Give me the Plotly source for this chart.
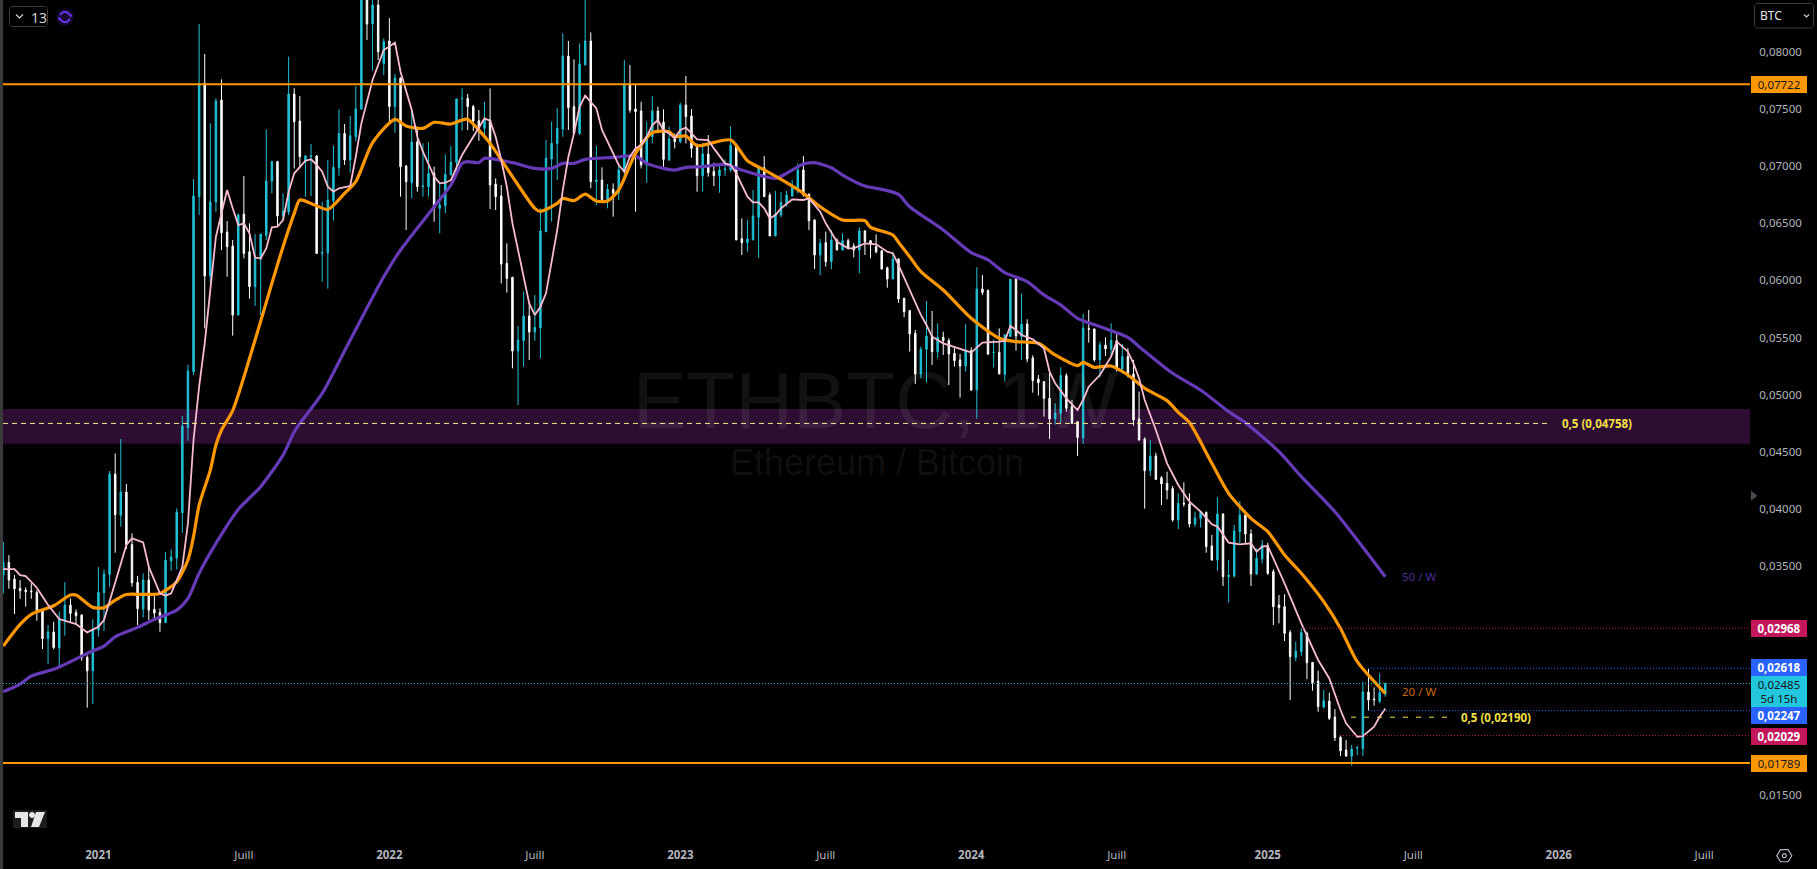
import math
import pandas as pd
import plotly.graph_objects as go

SCALE = 1e-5
LAST_BAR = "2025-06-02"

opens = [
 3432,3543,3397,3316,3301,3293,3281,3118,2876,2934,
 2794,3027,3170,3106,3083,2713,2596,2952,3278,3438,
 4315,3957,4158,3700,3368,3135,3389,3132,3106,3016,
 3555,3581,3977,4720,5210,6740,7730,6046,6693,7585,
 6431,6308,5705,6588,6259,5953,6192,6402,6877,7046,
 6571,6606,7637,7401,7046,7089,7095,6244,6250,6705,
 6993,7293,7060,7264,7506,8600,8249,8415,7905,8101,
 7527,7777,7008,6862,7218,6827,6827,6944,6638,6661,
 6929,7040,7596,7599,7527,7404,7337,7410,6850,6746,
 6157,6035,5391,5481,5697,5557,5592,6434,7069,7203,
 7331,7969,7527,7293,7891,8101,6871,6885,6693,6804,
 6775,6958,7719,7506,7489,7017,7264,7489,7392,7060,
 7244,7221,7541,7445,7171,6923,7113,6961,6923,6973,
 6973,7191,6373,6338,6361,6559,6993,6754,6396,6579,
 6681,6746,6804,6973,6763,6536,6230,6338,6172,6361,
 6273,6355,6308,6273,6440,6355,6303,6268,6119,6020,
 6195,5851,5744,5546,5190,5406,5522,5385,5511,5482,
 5371,5312,5260,5394,5050,5933,5919,5377,5380,5187,
 5517,6018,5517,5627,5330,5146,5123,4977,4797,4846,
 5176,4905,4773,4631,5586,5584,5313,5444,5409,5482,
 5234,5342,5190,4797,4622,4345,4473,4284,4234,4188,
 3914,4059,4054,3879,3928,3981,3687,3564,3966,3418,
 3424,3812,3958,3791,3442,3573,3689,3462,3171,3156,
 2931,2713,2762,2923,2669,2506,2279,2331,2191,2014,
 1903,1850,1920,1915,2410,2349,2328,2392]
highs = [
 3724,3607,3432,3389,3325,3360,3301,3135,2995,3024,
 3112,3371,3228,3132,3091,2730,3045,3502,3482,4342,
 4496,4621,4228,3797,3424,3447,3520,3272,3141,3633,
 3657,4015,4822,5268,6894,8249,7987,7381,7599,7765,
 6527,6361,6594,6920,6507,6413,6413,7328,7054,7054,
 6769,7964,7687,7620,7104,7200,7104,6696,7060,7186,
 7503,7375,7445,7707,8700,8700,8700,8700,8124,8299,
 7812,7783,7017,7512,7352,7206,7215,7002,6871,7110,
 7183,7596,7687,7637,7541,7497,7570,7687,6900,6842,
 6332,6040,5609,5909,5822,5880,6638,7235,7395,7512,
 8168,8101,7940,8080,8520,8176,7183,6996,6850,6856,
 7017,7934,7891,7716,7570,7395,7620,7527,7503,7352,
 7293,7561,7795,7506,7206,7206,7279,7037,7017,7066,
 7357,7206,6550,6536,6798,7017,7095,6775,6789,6778,
 6792,6885,7031,7095,6763,6542,6370,6434,6448,6375,
 6419,6373,6332,6472,6448,6361,6410,6268,6128,6259,
 6201,5857,5750,5575,5429,5828,5741,5633,5560,5502,
 5429,5365,5624,5423,6123,6056,5930,5493,5589,5540,
 6021,6047,5895,5668,5353,5181,5129,5202,4934,5248,
 5196,4963,4779,5715,5750,5584,5473,5511,5633,5546,
 5452,5415,5313,5036,4636,4613,4502,4298,4336,4211,
 4147,4243,4147,3987,3995,3987,3783,4112,3972,3564,
 3870,4080,3995,3832,3666,3739,3716,3483,3258,3264,
 2952,2850,2966,2937,2669,2596,2427,2404,2261,2034,
 1990,1947,1938,2500,2611,2451,2573,2491]
lows = [
 3272,3313,3091,3225,3156,3225,3033,2786,2654,2783,
 2631,2902,3016,2995,2684,2273,2305,2893,2943,3330,
 3628,3855,3660,3330,2995,3062,3039,3045,2937,3016,
 3470,3482,3802,4607,5181,6580,5589,5982,6609,6273,
 6040,5525,5705,6201,5848,5784,5705,6361,6769,6477,
 6536,6579,6987,6987,6740,6746,6244,5997,5935,6530,
 6923,7017,6950,7223,7497,8109,7841,7934,7803,7381,
 7299,6740,6448,6725,6783,6740,6740,6521,6419,6594,
 6929,6929,7317,7323,7314,7229,7241,6632,6623,5982,
 5901,5239,4918,5254,5312,5481,5326,6434,6521,6885,
 7264,7323,7293,7279,7891,6813,6667,6696,6638,6565,
 6711,6915,7474,6609,6987,6862,7206,7308,7002,7054,
 7162,7206,7206,7081,6783,6783,6915,6833,6775,6923,
 6958,6361,6230,6259,6361,6206,6740,6396,6396,6559,
 6652,6740,6769,6740,6448,6107,6055,6128,6107,6273,
 6273,6279,6209,6070,6230,6201,6244,6107,5944,6020,
 5813,5685,5385,5103,5152,5114,5269,5330,5356,5094,
 5254,4983,5211,5044,4800,5881,5356,5248,5190,5123,
 5517,5394,5313,5292,5027,5001,4817,4622,4747,4765,
 4861,4753,4473,4578,5464,5298,5161,5347,5347,5211,
 5196,5161,4738,4607,4013,4298,4263,4045,4094,3899,
 3835,4030,3850,3855,3847,3628,3558,3471,3337,3191,
 3410,3710,3710,3337,3433,3535,3433,2996,3010,2856,
 2340,2681,2725,2523,2422,2238,2267,2165,1982,1850,
 1845,1766,1859,1850,2244,2290,2311,2369]
closes = [
 3543,3389,3313,3295,3287,3287,3112,2876,2934,2800,
 3048,3170,3097,3077,2710,2596,2960,3281,3441,4315,
 3960,4158,3700,3365,3138,3389,3126,3100,3016,3561,
 3590,3983,4735,5216,6746,7730,6046,6693,7576,6425,
 6303,5705,6579,6244,5953,6201,6413,6877,7046,6571,
 6614,7637,7395,7089,7095,7095,6244,6253,6711,6996,
 7293,7060,7273,7506,8600,8249,8415,8007,8095,7527,
 7777,7002,6871,7218,6827,6833,6944,6638,6667,6935,
 7040,7594,7599,7527,7401,7337,7410,6842,6740,6151,
 6026,5391,5487,5697,5557,5597,6440,7075,7206,7337,
 7969,7518,7293,7900,8101,6871,6885,6696,6804,6769,
 6973,7725,7497,7483,7017,7270,7489,7395,7066,7244,
 7221,7541,7439,7162,6923,7113,6950,6923,6973,6982,
 7191,6361,6338,6370,6571,7002,6740,6396,6588,6690,
 6754,6821,6973,6754,6530,6230,6332,6172,6361,6273,
 6355,6288,6273,6440,6346,6332,6259,6107,6020,6195,
 5845,5734,5540,5190,5406,5522,5385,5511,5482,5365,
 5307,5260,5400,5050,5933,5901,5365,5380,5190,5531,
 6018,5522,5627,5321,5132,5114,4977,4797,4849,5176,
 4890,4759,4634,5592,5581,5313,5444,5409,5482,5240,
 5342,5196,4788,4613,4345,4473,4269,4229,4176,3914,
 4059,4054,3879,3931,3981,3681,3564,3966,3418,3430,
 3818,3958,3791,3442,3579,3695,3448,3156,3147,2923,
 2719,2768,2929,2666,2491,2282,2334,2180,2011,1897,
 1850,1912,1923,2410,2340,2343,2404,2485]

purple_bar = [0,3,5,9,12,15,18,20,24,27,31,33,35,38,42,46,50,52,53,57,62,68,71,77,80,82,83,85,86,91,95,98,100,102,104,109,113,115,118,120,122,125,129,132,135,138,140,143,145,148,150,154,157,160,162,168,173,176,179,183,186,189,192,196,201,203,209,214,219,222,228,232,238,242,247]
purple_val = [2413,2480,2550,2608,2675,2748,2812,2893,2975,3045,3126,3228,3447,3709,4006,4205,4481,4685,4758,5020,5487,6040,6274,6652,6842,7031,7046,7037,7075,7037,6987,6987,7031,7031,7066,7083,7095,7031,6987,6973,6996,7002,7022,6973,6929,6900,6944,7025,7037,6993,6929,6833,6804,6760,6652,6449,6251,6187,6076,5997,5881,5793,5677,5604,5511,5429,5196,5050,4861,4765,4511,4293,3986,3739,3418]

orange_bar = [0,3,5,9,12,13,16,18,20,22,25,28,31,33,34,35,37,38,39,41,45,48,50,52,53,55,58,61,63,66,70,72,75,77,80,82,83,85,87,91,95,96,99,100,102,104,106,108,110,113,116,119,120,122,124,130,133,136,140,143,146,150,154,155,159,160,162,164,168,173,178,181,185,188,192,193,195,198,201,204,208,210,212,216,219,223,226,229,232,236,239,242,247]
orange_val = [2812,3001,3089,3164,3258,3258,3150,3147,3214,3263,3263,3272,3374,3564,3768,4044,4350,4569,4700,4869,5487,5982,6303,6594,6711,6681,6629,6769,6871,7212,7416,7358,7337,7390,7375,7410,7416,7322,7206,6915,6638,6612,6681,6725,6705,6763,6702,6702,6798,7118,7299,7308,7264,7270,7186,7235,7054,6973,6862,6769,6652,6536,6530,6472,6405,6341,6215,6085,5924,5677,5502,5473,5458,5356,5263,5292,5248,5260,5181,5065,4957,4855,4765,4409,4147,3928,3812,3608,3448,3200,2966,2675,2398]

pink_bar = [0,2,3,4,6,8,10,13,15,17,18,20,22,23,25,26,28,29,30,32,33,34,35,36,37,38,39,40,41,42,43,44,45,46,47,48,49,50,51,52,54,55,56,57,58,59,60,62,63,64,66,68,70,71,73,74,75,77,78,79,80,82,84,86,87,88,89,90,91,92,93,94,95,96,97,98,99,100,101,102,103,104,105,106,107,108,109,110,111,112,113,114,115,116,117,118,119,120,121,122,123,124,126,127,129,130,131,132,133,134,135,136,137,138,139,141,143,144,146,147,149,151,152,154,156,158,159,160,161,162,163,164,165,166,168,170,172,173,174,175,178,179,180,181,182,184,186,187,188,190,192,193,194,196,198,199,201,202,203,204,206,208,210,212,214,216,217,219,221,223,224,225,226,229,232,235,237,239,240,242,243,245,246,247]
pink_val = [3485,3485,3432,3424,3322,3170,3048,3004,2931,2981,3039,3360,3695,3753,3718,3505,3272,3252,3272,3505,3884,4613,5079,5458,5953,6390,6594,6798,6638,6492,6507,6419,6206,6201,6288,6472,6477,6536,6783,6944,7054,7066,7017,6958,6827,6783,6813,6833,7089,7381,7760,8022,8086,7832,7497,7264,7133,6915,6856,6862,6885,7104,7264,7424,7404,7264,7060,6827,6507,6273,6011,5807,5705,5778,5895,6186,6448,6798,7089,7293,7526,7623,7570,7512,7323,7221,7133,7017,6958,7089,7162,7191,7264,7366,7410,7317,7293,7250,7323,7343,7293,7241,7235,7162,7031,7017,6944,6842,6740,6690,6690,6638,6550,6580,6638,6716,6711,6725,6609,6507,6346,6288,6288,6332,6323,6259,6244,6142,6033,5910,5808,5706,5618,5516,5458,5429,5394,5377,5423,5464,5473,5479,5610,5575,5531,5493,5414,5211,5109,4977,4875,4963,5079,5181,5342,5473,5385,5283,5152,4963,4701,4409,4220,4074,3987,3876,3856,3716,3701,3710,3637,3681,3687,3360,3010,2690,2529,2253,2136,2019,2025,2107,2194,2267]

levels_orange = [0.07722, 0.01789]
band_low, band_high = 0.04581, 0.04884
fib_upper, fib_lower = 0.04758, 0.02190
level_red = [0.02968, 0.02029]
level_blue = [0.02618, 0.02247]
last_price = 0.02485

y_ticks = [0.015,0.03,0.035,0.04,0.045,0.05,0.055,0.06,0.065,0.07,0.075,0.08]
x_tick_dates = ["2021-01-04","2021-07-05","2022-01-03","2022-07-04","2023-01-02","2023-07-03","2024-01-01","2024-07-01","2025-01-06","2025-07-07","2026-01-05","2026-07-06"]
x_tick_text = ["<b>2021</b>","Juill","<b>2022</b>","Juill","<b>2023</b>","Juill","<b>2024</b>","Juill","<b>2025</b>","Juill","<b>2026</b>","Juill"]

# layout geometry of the page, in pixels
W, H = 1817, 869
PL, PR, PB = 3, 1750, 836
BAR_STEP = 5.595
FIRST_BAR_PX = 3.3

def X(px): return (px - PL) / (PR - PL)
def Y(py): return 1 - py / PB

dates = pd.date_range(end=LAST_BAR, periods=len(opens), freq="7D")
def bar_date(i):
    return pd.Timestamp(LAST_BAR) + pd.Timedelta(days=7 * (i - (len(opens) - 1)))
def scaled(a): return [v * SCALE for v in a]

range_x = [bar_date((PL - FIRST_BAR_PX) / BAR_STEP), bar_date((PR - FIRST_BAR_PX) / BAR_STEP)]
range_y = [(8459 - 8.741 * PB) * SCALE, 8459 * SCALE]

CYAN, WHITE = "#22c1d6", "#ffffff"
ORANGE, PURPLE, PINK = "#ff9800", "#673ab7", "#f8bbd0"
RED, BLUE, YELLOW = "#c2185b", "#2962ff", "#f5e04a"
AXIS = "#b2b5be"
FONT = "Noto Sans"

fig = go.Figure()
fig.add_trace(go.Candlestick(
    x=dates, open=scaled(opens), high=scaled(highs), low=scaled(lows), close=scaled(closes),
    increasing=dict(line=dict(color=CYAN, width=1), fillcolor=CYAN),
    decreasing=dict(line=dict(color=WHITE, width=1), fillcolor=WHITE),
    whiskerwidth=0, hoverinfo="skip", showlegend=False))
for bars, vals, col, w, kind in [(purple_bar, purple_val, PURPLE, 3.2, "spline"),
                                 (orange_bar, orange_val, ORANGE, 3.2, "spline"),
                                 (pink_bar, pink_val, PINK, 1.8, "linear")]:
    line = dict(color=col, width=w, shape=kind)
    if kind == "spline":
        line["smoothing"] = 0.7
    fig.add_trace(go.Scatter(x=[dates[b] for b in bars], y=scaled(vals), mode="lines",
                             line=line, hoverinfo="skip", showlegend=False))

shapes = []
def hline(y, x0, x1, col, width=1, dash="solid", layer="above"):
    shapes.append(dict(type="line", xref="paper", yref="y", x0=X(x0), x1=X(x1), y0=y, y1=y,
                       line=dict(color=col, width=width, dash=dash), layer=layer))

shapes.append(dict(type="rect", xref="paper", yref="y", x0=0, x1=1, y0=band_low, y1=band_high,
                   fillcolor="#2e0d33", line=dict(width=0), layer="below"))
for lv in levels_orange:
    hline(lv, PL, PR, ORANGE, 2)
hline(fib_upper, PL, 1550, "#f7e98e", 1, "5px,4px")
hline(fib_lower, 1351, 1453, YELLOW, 1, "5px,8px")
hline(level_red[0], 1303, PR, RED, 1, "1px,2px")
hline(level_red[1], 1340, PR, RED, 1, "1px,2px")
hline(level_blue[0], 1368, PR, BLUE, 1, "1px,2px")
hline(level_blue[1], 1368, PR, BLUE, 1, "1px,2px")
hline(last_price, PL, PR, CYAN, 1, "1px,2px")

def path(points, close=False):
    s = "M " + " L ".join(f"{X(x):.5f},{Y(y):.5f}" for x, y in points)
    return s + (" Z" if close else "")

def add_path(points, close=False, line=None, fill=None, width=1):
    shapes.append(dict(type="path", xref="paper", yref="paper", path=path(points, close),
                       line=dict(color=line or "rgba(0,0,0,0)", width=width if line else 0),
                       fillcolor=fill or "rgba(0,0,0,0)", layer="above"))

def rounded(x0, y0, x1, y1, r=3):
    pts = []
    for cx, cy, a0 in [(x1-r, y0+r, -90), (x1-r, y1-r, 0), (x0+r, y1-r, 90), (x0+r, y0+r, 180)]:
        for k in range(6):
            a = math.radians(a0 + 18 * k)
            pts.append((cx + r * math.cos(a), cy + r * math.sin(a)))
    return pts

def arc(cx, cy, r, a0, a1, n=14):
    return [(cx + r * math.cos(math.radians(a0 + (a1 - a0) * k / n)),
             cy + r * math.sin(math.radians(a0 + (a1 - a0) * k / n))) for k in range(n + 1)]

# left strip
shapes.append(dict(type="rect", xref="paper", yref="paper", x0=X(0), x1=X(PL), y0=Y(H), y1=Y(0),
                   fillcolor="#3a3a3a", line=dict(width=0), layer="above"))
# top-left button and refresh icon
add_path(rounded(9.5, 6.5, 47.5, 26.5), True, line="#3d3d3d")
add_path([(16, 14.5), (19.5, 18), (23, 14.5)], line="#cfcfcf", width=1.2)
add_path(arc(65, 17, 8.5, 0, 360, 24), True, fill="#160a33")
add_path(arc(65, 17, 5, 200, 340), line="#6a35f0", width=2)
add_path(arc(65, 17, 5, 20, 160), line="#6a35f0", width=2)
add_path([(68, 13), (72, 14.5), (71, 18)], True, fill="#6a35f0")
add_path([(62, 21), (58, 19.5), (59, 16)], True, fill="#6a35f0")
# top-right BTC button
add_path(rounded(1754.5, 3.5, 1813.5, 28), True, line="#3d3d3d")
add_path([(1804, 14.5), (1806.5, 17), (1809, 14.5)], line="#cfcfcf", width=1.2)
# bottom-left logo on its dark plate
add_path(rounded(13, 810, 47, 828, 1), True, fill="#1c1c1c")
add_path([(15, 812), (28, 812), (28, 827), (21, 827), (21, 818), (15, 818)], True, fill="#e6e6e6")
add_path(arc(32, 815, 3, 0, 360, 16), True, fill="#e6e6e6")
add_path([(36, 812), (45, 812), (39, 827), (31, 827)], True, fill="#e6e6e6")
# gear icon bottom-right
add_path([(1784.3 + 7.5 * math.cos(math.radians(60 * k)), 855.7 + 7 * math.sin(math.radians(60 * k))) for k in range(6)], True, line=AXIS, width=1.2)
add_path(arc(1784.3, 855.7, 2, 0, 360, 12), True, line=AXIS, width=1.2)
# right-edge marker
add_path([(1751, 490.7), (1757.5, 495.7), (1751, 500.7)], True, fill="#4a4c55")

anns = []
def text(x, y, s, color, size=11.5, xanchor="left", family=FONT):
    anns.append(dict(xref="paper", yref="paper", x=X(x), y=Y(y), text=s, showarrow=False, xanchor=xanchor,
                     yanchor="middle", font=dict(color=color, size=size, family=family), align="left"))

def tag(y_top, y_bot, s, bg, color):
    anns.append(dict(xref="paper", yref="paper", x=X(1751), y=Y((y_top + y_bot) / 2), text=s, showarrow=False,
                     xanchor="left", yanchor="middle", width=56, height=y_bot - y_top, borderpad=0, borderwidth=0,
                     bgcolor=bg, font=dict(color=color, size=11.5, family=FONT), align="center"))

# watermark
text(875, 400, "ETHBTC, 1W", "rgba(255,255,255,0.07)", 80, "center", "Liberation Sans")
text(877, 462, "Ethereum / Bitcoin", "rgba(255,255,255,0.07)", 36, "center", "Liberation Sans")

text(1560, 423.5, "<b>0,5 (0,04758)</b>", YELLOW, 11.5)
text(1459, 717, "<b>0,5 (0,02190)</b>", YELLOW, 11.5)
text(1400, 576, "50 / W", "#4e2d94", 11.5)
text(1400, 691.5, "20 / W", "#c46a08", 11.5)
text(28.5, 17, "13", "#d0d0d0", 14, "left")
text(1758, 15.5, "BTC", "#e8e8e8", 12)

tag(76, 92.7, "0,07722", ORANGE, "#131722")
tag(620, 636.7, "<b>0,02968</b>", RED, "#ffffff")
tag(659, 676, "<b>0,02618</b>", BLUE, "#ffffff")
tag(676, 707, "0,02485<br>5d 15h", "#22c7dd", "#131722")
tag(707, 723.7, "<b>0,02247</b>", BLUE, "#ffffff")
tag(728, 745, "<b>0,02029</b>", RED, "#ffffff")
tag(755, 772, "0,01789", ORANGE, "#131722")

fig.update_layout(
    width=W, height=H, margin=dict(l=PL, r=W - PR, t=0, b=H - PB, pad=0),
    paper_bgcolor="#000000", plot_bgcolor="#000000",
    showlegend=False, dragmode=False, hovermode=False, boxgap=0.62,
    shapes=shapes, annotations=anns,
    font=dict(family=FONT, color=AXIS, size=11.5),
    xaxis=dict(type="date", range=range_x, rangeslider=dict(visible=False), showgrid=False, zeroline=False,
               showline=False, ticks="outside", ticklen=8, tickcolor="rgba(0,0,0,0)",
               tickmode="array", tickvals=x_tick_dates, ticktext=x_tick_text,
               tickfont=dict(size=11.5, color=AXIS, family=FONT)),
    yaxis=dict(side="right", range=range_y, showgrid=False, zeroline=False, showline=False,
               ticks="outside", ticklen=6, tickcolor="rgba(0,0,0,0)", ticklabelshift=-1,
               tickmode="array", tickvals=y_ticks, ticktext=[f"{v:.5f}".replace(".", ",") for v in y_ticks],
               tickfont=dict(size=11.5, color=AXIS, family=FONT)),
)

fig.write_html("out.html", config=dict(displayModeBar=False, staticPlot=True),
               post_script="document.body.style.margin='0';document.body.style.overflow='hidden';")
